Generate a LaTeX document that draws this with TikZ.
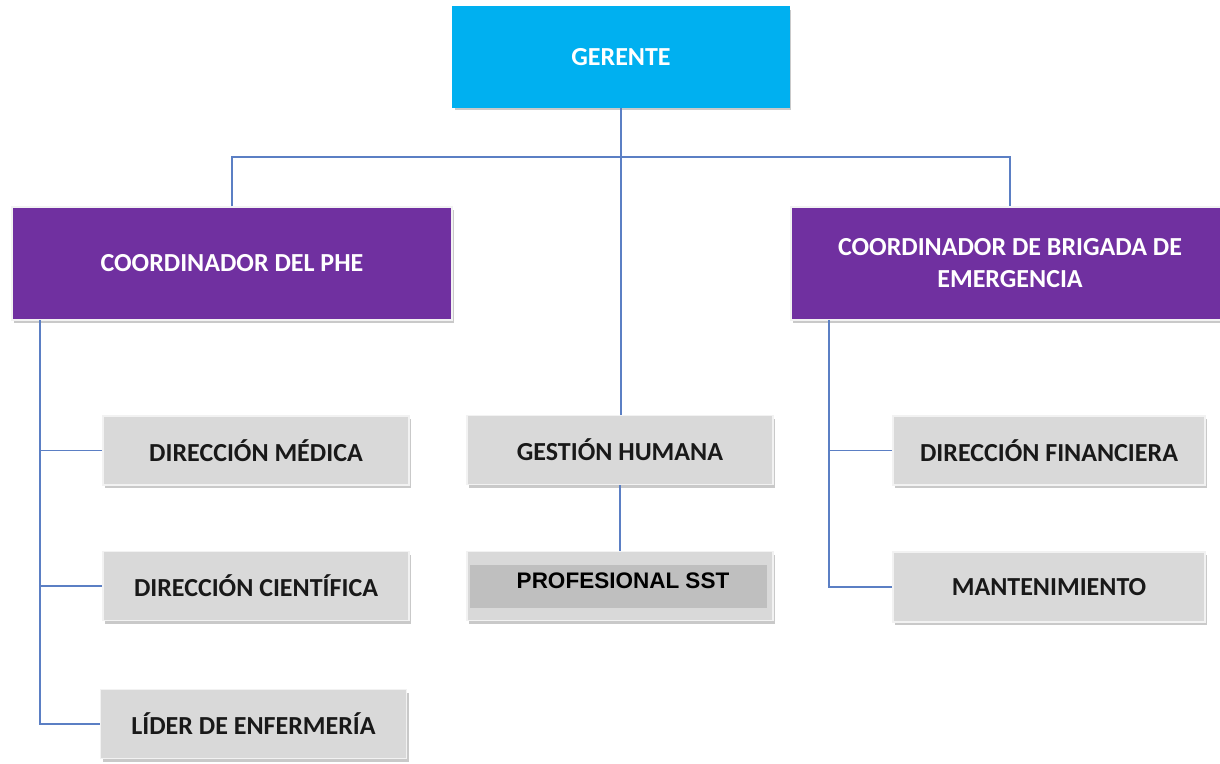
\documentclass[tikz,border=0pt]{standalone}
\usepackage{fontspec}
\setmainfont{Carlito}
\newfontfamily\arialfont{Liberation Sans}
\usetikzlibrary{shadows}
\definecolor{gercyan}{HTML}{00B0F0}
\definecolor{coordpurple}{HTML}{7030A0}
\definecolor{boxgray}{HTML}{D9D9D9}
\definecolor{bandgray}{HTML}{BFBFBF}
\definecolor{linkblue}{HTML}{5B7FC4}
\definecolor{edgegray}{HTML}{F2F2F2}
\tikzset{
  base/.style={rectangle, draw=edgegray, line width=1.2pt, inner sep=4pt, align=center,
    font=\bfseries\fontsize{26}{32}\selectfont,
    drop shadow={shadow xshift=2pt, shadow yshift=-3pt, opacity=0.35, fill=black!60}},
  topbox/.style={base, fill=gercyan, draw=gercyan, text=white, minimum width=336pt, minimum height=100pt, drop shadow={opacity=0}},
  coordbox/.style={base, fill=coordpurple, text=white, minimum height=113pt},
  unitbox/.style={base, fill=boxgray, text=black!90, minimum width=306pt, minimum height=69pt},
  conn/.style={draw=linkblue, line width=1.5pt},
}
\begin{document}
\begin{tikzpicture}[x=1pt,y=-1pt]
\useasboundingbox (0,0) rectangle (1220,763);
\fill[white] (0,0) rectangle (1220,763);

\node[topbox] (ger) at (621,57) {GERENTE};
\node[coordbox, minimum width=440pt] (phe) at (232,263.5) {COORDINADOR DEL PHE};
\node[coordbox, minimum width=438pt] (brig) at (1010,263.5) {COORDINADOR DE BRIGADA DE\\EMERGENCIA};

\node[unitbox] (dm) at (256,450.5) {DIRECCIÓN MÉDICA};
\node[unitbox] (dc) at (256,586) {DIRECCIÓN CIENTÍFICA};
\node[unitbox] (lider) at (253.5,724) {LÍDER DE ENFERMERÍA};

\node[unitbox] (gh) at (620,450) {GESTIÓN HUMANA};
\node[unitbox] (sst) at (620,586) {};
\node[fill=bandgray, minimum width=297pt, minimum height=43pt, inner sep=0pt] (sstband) at (618.5,586.5) {};
\node[font=\arialfont\bfseries\fontsize{22.5}{26}\selectfont, text=black, inner sep=0pt]
      (ssttext) at (623,581) {PROFESIONAL SST};

\node[unitbox, minimum width=312pt] (df) at (1049,450.5) {DIRECCIÓN FINANCIERA};
\node[unitbox, minimum width=312pt, minimum height=70pt] (mant) at (1049,587) {MANTENIMIENTO};

% connectors
\coordinate (bus) at (621,157);
\draw[conn] (ger.south) -- (ger.south |- gh.north);
\draw[conn] (phe.north) |- (bus) -| (brig.north);

\coordinate (lspine) at (40,320);
\draw[conn] (lspine) |- (lider.west);
\draw[conn] (lspine |- dm.west) -- (dm.west);
\draw[conn] (lspine |- dc.west) -- (dc.west);

\coordinate (rspine) at (829,320);
\draw[conn] (rspine) |- (mant.west);
\draw[conn] (rspine |- df.west) -- (df.west);

\draw[conn] (gh.south) -- (sst.north);
\end{tikzpicture}
\end{document}
